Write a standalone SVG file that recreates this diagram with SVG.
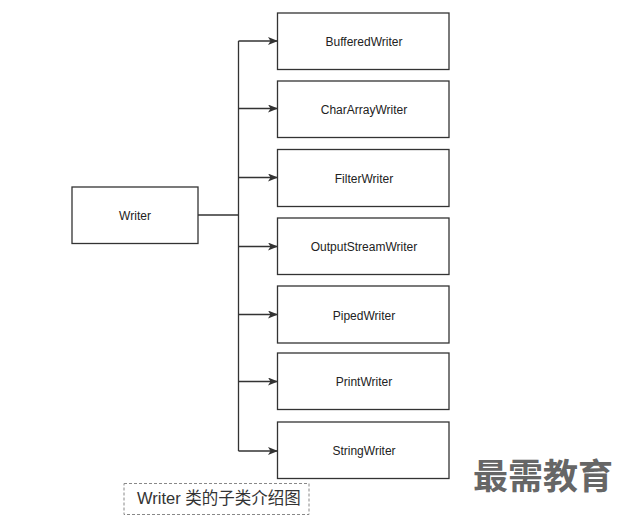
<svg xmlns="http://www.w3.org/2000/svg" width="627" height="519" viewBox="0 0 627 519">
<style>
.box{fill:#fff;stroke:#333;stroke-width:1.3}
.lbl{font-family:"Liberation Sans",Arial,sans-serif;font-size:12px;fill:#222;text-anchor:middle}
.conn{fill:none;stroke:#333;stroke-width:1.3}
</style>
<defs>
<marker id="arr" markerWidth="10" markerHeight="8" refX="9" refY="4" orient="auto" markerUnits="userSpaceOnUse">
<path d="M0,0 L10,4 L0,8 L2.5,4 Z" fill="#333"/>
</marker>
</defs>
<rect width="627" height="519" fill="#fff"/>
<g id="connectors">
<path class="conn" d="M198,215 H238.5"/>
<path class="conn" d="M238.5,41 V451"/>
<path class="conn" d="M238.5,41 H277" marker-end="url(#arr)"/>
<path class="conn" d="M238.5,108.5 H277" marker-end="url(#arr)"/>
<path class="conn" d="M238.5,177.5 H277" marker-end="url(#arr)"/>
<path class="conn" d="M238.5,246.5 H277" marker-end="url(#arr)"/>
<path class="conn" d="M238.5,314.5 H277" marker-end="url(#arr)"/>
<path class="conn" d="M238.5,381.5 H277" marker-end="url(#arr)"/>
<path class="conn" d="M238.5,451 H277" marker-end="url(#arr)"/>
</g>
<g id="writer">
<rect class="box" x="72" y="187" width="126" height="56.5"/>
<text class="lbl" x="135" y="220">Writer</text>
</g>
<g id="bufferedwriter">
<rect class="box" x="277.5" y="13" width="171.5" height="56.5"/>
<text class="lbl" x="364" y="46">BufferedWriter</text>
</g>
<g id="chararraywriter">
<rect class="box" x="277.5" y="81" width="171.5" height="56.5"/>
<text class="lbl" x="364" y="114">CharArrayWriter</text>
</g>
<g id="filterwriter">
<rect class="box" x="277.5" y="149.5" width="171.5" height="57"/>
<text class="lbl" x="364" y="183">FilterWriter</text>
</g>
<g id="outputstreamwriter">
<rect class="box" x="277.5" y="218" width="171.5" height="56.5"/>
<text class="lbl" x="364" y="251">OutputStreamWriter</text>
</g>
<g id="pipedwriter">
<rect class="box" x="277.5" y="286" width="171.5" height="57"/>
<text class="lbl" x="364" y="319.5">PipedWriter</text>
</g>
<g id="printwriter">
<rect class="box" x="277.5" y="353" width="171.5" height="56.5"/>
<text class="lbl" x="364" y="386">PrintWriter</text>
</g>
<g id="stringwriter">
<rect class="box" x="277.5" y="422" width="171.5" height="56.5"/>
<text class="lbl" x="364" y="455">StringWriter</text>
</g>
<g id="caption">
<rect x="124" y="483.5" width="185" height="31" fill="none" stroke="#888" stroke-width="1" stroke-dasharray="3,2"/>
<text x="137" y="503.5" font-family="'Liberation Sans','Noto Sans CJK SC',sans-serif" font-size="16.5" fill="#333">Writer 类的子类介绍图</text>
</g>
<text x="473" y="489" font-family="'Noto Sans CJK SC',sans-serif" font-weight="bold" font-size="35" fill="#666">最需教育</text>
</svg>
